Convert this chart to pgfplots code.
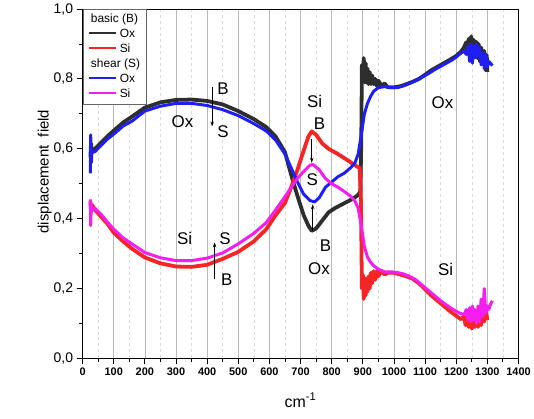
\documentclass[border=0pt]{standalone}
\usepackage{fontspec}
\setmainfont{Liberation Sans}
\usepackage{pgfplots}
\pgfplotsset{compat=1.18}
\usetikzlibrary{arrows.meta}

\definecolor{oxbasic}{HTML}{2E2E2E}
\definecolor{sibasic}{HTML}{F52525}
\definecolor{oxshear}{HTML}{1E1EF5}
\definecolor{sishear}{HTML}{F51EF0}

% short coloured line used as a legend key
\newcommand{\keyline}[1]{\textcolor{#1}{\rule[0.28em]{27pt}{2pt}}}

\begin{document}
\begin{tikzpicture}
\begin{axis}[
  name=ax,
  scale only axis,
  width=438pt, height=351pt,
  xmin=0, xmax=1400, ymin=0, ymax=1,
  xtick={0,100,...,1400},
  ytick={0,0.2,0.4,0.6,0.8,1},
  minor x tick num=1,
  minor y tick num=1,
  xtick pos=left, ytick pos=left,
  tick align=outside,
  major tick length=6pt,
  minor tick length=3.5pt,
  tick style={black, line width=0.9pt},
  axis line style={line width=1pt},
  xmajorgrids=true, xminorgrids=true,
  major grid style={gray!55, line width=0.7pt, solid},
  minor grid style={gray!30, line width=0.5pt, dashed},
  /pgf/number format/assume math mode=true,
  yticklabel style={font=\fontsize{14}{16}\selectfont,
    /pgf/number format/.cd, fixed, fixed zerofill, precision=1, use comma},
  xticklabel style={font=\fontsize{11}{13}\selectfont\bfseries,
    /pgf/number format/.cd, 1000 sep={}},
  ylabel={displacement\ \ field},
  ylabel style={font=\fontsize{15}{17}\selectfont, at={(axis description cs:-0.087,0.535)}, anchor=center},
  xlabel={cm\textsuperscript{-1}},
  xlabel style={font=\fontsize{16}{18}\selectfont, at={(axis description cs:0.5,0)}, yshift=-49pt, anchor=base},
  clip=false,
]

% basic (B), Ox
\addplot[oxbasic, line width=3.8pt, line join=round] coordinates {
(25,0.575) (27,0.615) (30,0.590) (40,0.600) (60,0.618) (80,0.636) (100,0.652)
(130,0.675) (160,0.693) (200,0.718) (250,0.733) (300,0.740) (350,0.741)
(400,0.737) (450,0.727) (500,0.708) (550,0.685) (590,0.662) (620,0.635)
(650,0.590) (670,0.525) (690,0.465) (710,0.410) (725,0.380) (736,0.365)
(750,0.372) (770,0.395) (790,0.418) (810,0.430) (840,0.444) (870,0.458)
(885,0.468) (892,0.478) (895,0.620) (897,0.840) (900,0.800) (903,0.860)
(906,0.790) (909,0.845) (912,0.790) (915,0.830) (918,0.785) (922,0.820)
(926,0.785) (930,0.810) (935,0.785) (940,0.800) (945,0.780) (950,0.795)
(960,0.780) (970,0.787) (980,0.776) (1000,0.776) (1020,0.779) (1040,0.785)
(1060,0.792) (1080,0.800) (1100,0.812) (1120,0.825) (1140,0.835) (1160,0.845)
(1180,0.855) (1200,0.866) (1215,0.878) (1225,0.890) (1232,0.905) (1236,0.872)
(1240,0.915) (1244,0.880) (1248,0.922) (1252,0.870) (1256,0.912) (1260,0.885)
(1265,0.906) (1268,0.860) (1272,0.900) (1276,0.850) (1280,0.890) (1285,0.868)
(1290,0.880) (1294,0.825) (1298,0.868) (1300,0.820)
};

% basic (B), Si
\addplot[sibasic, line width=3.8pt, line join=round] coordinates {
(25,0.450) (27,0.420) (30,0.440) (40,0.425) (60,0.405) (80,0.385) (100,0.360)
(130,0.335) (160,0.313) (200,0.289) (250,0.272) (300,0.263) (350,0.262)
(400,0.268) (450,0.285) (500,0.305) (550,0.335) (590,0.370) (620,0.410)
(650,0.445) (670,0.490) (690,0.540) (710,0.595) (725,0.635) (736,0.650)
(750,0.640) (770,0.615) (790,0.600) (820,0.585) (850,0.568) (880,0.550)
(890,0.545) (894,0.450) (897,0.200) (900,0.240) (903,0.170) (906,0.230)
(909,0.180) (912,0.225) (915,0.190) (918,0.235) (922,0.200) (926,0.245)
(930,0.215) (935,0.250) (940,0.225) (945,0.250) (950,0.235) (960,0.250)
(970,0.240) (980,0.245) (1000,0.245) (1020,0.240) (1040,0.235) (1060,0.228)
(1080,0.215) (1100,0.198) (1120,0.180) (1140,0.165) (1160,0.150) (1180,0.135)
(1200,0.122) (1215,0.112) (1225,0.120) (1230,0.095) (1236,0.120) (1240,0.090)
(1245,0.125) (1250,0.085) (1255,0.115) (1260,0.090) (1265,0.120) (1270,0.090)
(1275,0.130) (1280,0.095) (1285,0.150) (1290,0.105) (1295,0.140) (1300,0.110)
};

% shear (S), Ox
\addplot[oxshear, line width=3pt, line join=round] coordinates {
(25,0.530) (26,0.640) (28,0.560) (30,0.590) (40,0.592) (60,0.610) (80,0.628)
(100,0.642) (130,0.665) (160,0.680) (200,0.708) (250,0.722) (300,0.730)
(350,0.730) (400,0.724) (450,0.712) (500,0.695) (550,0.672) (590,0.651)
(620,0.625) (650,0.585) (670,0.545) (690,0.505) (710,0.470) (730,0.452)
(745,0.448) (760,0.460) (780,0.490) (800,0.505) (820,0.520) (840,0.530)
(860,0.545) (875,0.560) (885,0.585) (895,0.640) (905,0.700) (915,0.730)
(925,0.750) (935,0.765) (950,0.775) (970,0.778) (990,0.775) (1010,0.775)
(1030,0.780) (1050,0.787) (1070,0.795) (1090,0.805) (1110,0.815) (1130,0.826)
(1150,0.836) (1170,0.846) (1190,0.856) (1210,0.870) (1225,0.880) (1232,0.870)
(1238,0.895) (1243,0.850) (1248,0.900) (1252,0.845) (1256,0.895) (1260,0.860)
(1265,0.900) (1270,0.865) (1275,0.890) (1280,0.840) (1285,0.875) (1290,0.830)
(1295,0.870) (1300,0.835) (1305,0.850) (1310,0.845) (1316,0.838)
};

% shear (S), Si
\addplot[sishear, line width=3pt, line join=round] coordinates {
(25,0.455) (26,0.380) (28,0.440) (30,0.425) (40,0.430) (60,0.412) (80,0.390)
(100,0.370) (130,0.345) (160,0.327) (200,0.303) (250,0.288) (300,0.280)
(350,0.280) (400,0.287) (450,0.302) (500,0.328) (550,0.358) (590,0.389)
(620,0.425) (650,0.463) (670,0.490) (690,0.515) (710,0.535) (730,0.553)
(740,0.555) (760,0.540) (780,0.515) (800,0.500) (820,0.490) (840,0.478)
(860,0.465) (875,0.450) (885,0.430) (895,0.380) (905,0.320) (915,0.290)
(925,0.275) (935,0.265) (950,0.255) (970,0.248) (990,0.248) (1010,0.246)
(1030,0.242) (1050,0.235) (1070,0.225) (1090,0.210) (1110,0.195) (1130,0.180)
(1150,0.165) (1170,0.152) (1190,0.140) (1210,0.130) (1225,0.125) (1232,0.140)
(1238,0.110) (1243,0.145) (1248,0.105) (1252,0.150) (1256,0.110) (1260,0.140)
(1265,0.100) (1270,0.150) (1275,0.105) (1280,0.170) (1285,0.120) (1290,0.200)
(1295,0.130) (1300,0.150) (1305,0.140) (1310,0.155) (1316,0.165)
};

% annotations
\begin{scope}[every node/.style={font=\fontsize{17}{20}\selectfont, inner sep=0pt}]
\node at (axis cs:451,0.771) {B};
\node at (axis cs:321,0.677) {Ox};
\node at (axis cs:451,0.648) {S};
\node at (axis cs:328,0.343) {Si};
\node at (axis cs:457,0.342) {S};
\node at (axis cs:463,0.225) {B};
\node at (axis cs:745,0.735) {Si};
\node at (axis cs:761,0.671) {B};
\node at (axis cs:738,0.513) {S};
\node at (axis cs:780,0.323) {B};
\node at (axis cs:759,0.256) {Ox};
\node at (axis cs:1156,0.731) {Ox};
\node at (axis cs:1166,0.256) {Si};
\end{scope}
\begin{scope}[-{Stealth[length=5pt,width=3.5pt]}, line width=0.8pt]
\draw (axis cs:416,0.778) -- (axis cs:416,0.664);
\draw (axis cs:424,0.227) -- (axis cs:424,0.332);
\draw (axis cs:736,0.628) -- (axis cs:736,0.560);
\draw (axis cs:739,0.365) -- (axis cs:739,0.441);
\end{scope}

% legend with two headed groups
\node[draw=gray!80!black, line width=0.7pt, fill=white, anchor=north west,
      inner xsep=6pt, inner ysep=2.5pt,
      font=\fontsize{12}{15}\selectfont] at (rel axis cs:0,1) {%
  \begin{tabular}{@{}l@{\hspace{4pt}}l@{}}
  \multicolumn{2}{@{\hspace{2pt}}l@{}}{basic (B)}\\
  \keyline{oxbasic} & Ox\\
  \keyline{sibasic} & Si\\
  \multicolumn{2}{@{\hspace{2pt}}l@{}}{shear (S)}\\
  \keyline{oxshear} & Ox\\
  \keyline{sishear} & Si
  \end{tabular}};
\end{axis}
\path ([shift={(-83pt,-60pt)}]ax.south west) rectangle ([shift={(13pt,5pt)}]ax.north east);
\end{tikzpicture}
\end{document}
